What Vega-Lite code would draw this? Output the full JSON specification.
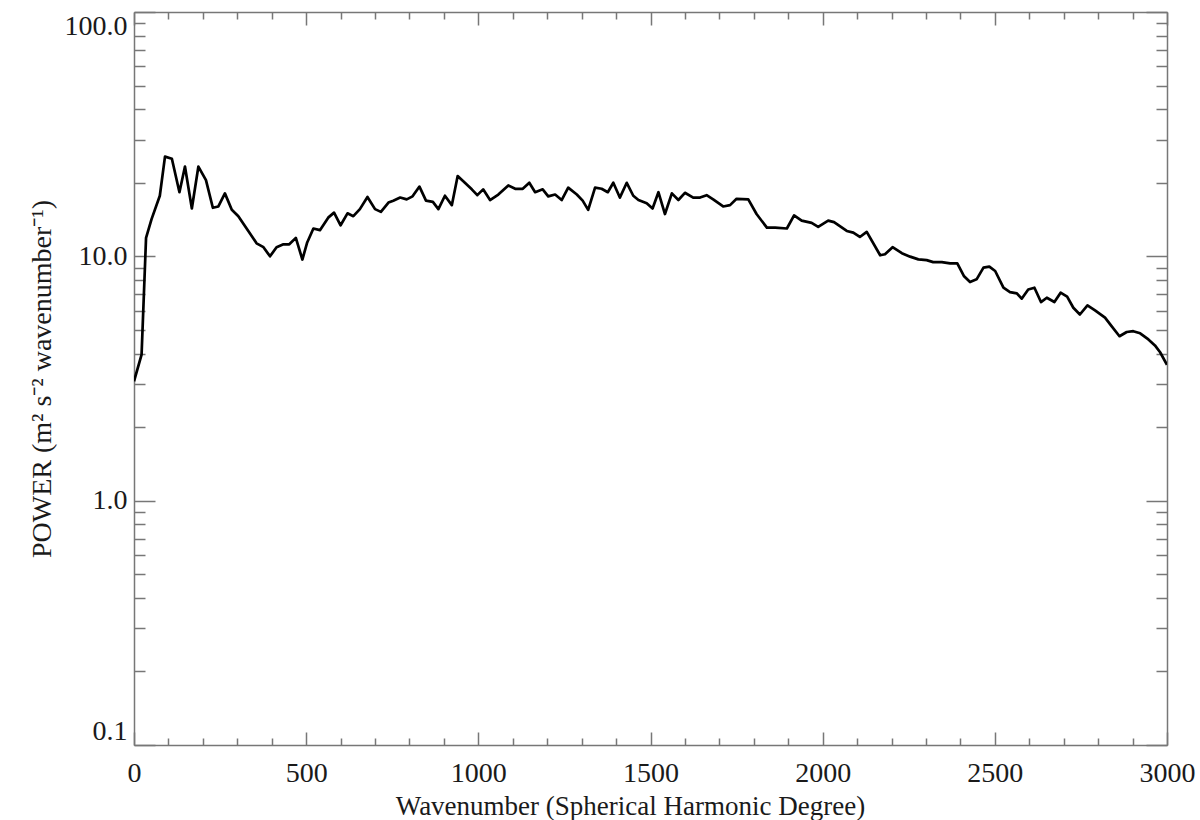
{
  "$schema": "https://vega.github.io/schema/vega-lite/v6.json",
  "width": 1033,
  "height": 733,
  "autosize": {"type": "none"},
  "padding": {"left": 134, "top": 12, "right": 33, "bottom": 75},
  "background": "white",
  "config": {
    "view": {"stroke": null},
    "axis": {
      "grid": false,
      "labelFont": "Liberation Serif",
      "titleFont": "Liberation Serif",
      "labelFontSize": 28,
      "titleFontSize": 27,
      "titleFontWeight": "normal",
      "labelColor": "#1a1a1a",
      "titleColor": "#1a1a1a",
      "domainColor": "#777777",
      "domainWidth": 1.5,
      "tickColor": "#777777",
      "tickWidth": 1.5,
      "labelOverlap": false,
      "labelFlush": false
    }
  },
  "data": {
    "values": [
      {"degree": 0, "power": 3.08},
      {"degree": 22, "power": 3.96},
      {"degree": 35, "power": 11.9},
      {"degree": 51, "power": 14.2},
      {"degree": 75, "power": 17.7},
      {"degree": 90, "power": 25.6},
      {"degree": 110, "power": 25.1},
      {"degree": 132, "power": 18.3},
      {"degree": 148, "power": 23.3},
      {"degree": 168, "power": 15.7},
      {"degree": 187, "power": 23.3},
      {"degree": 209, "power": 20.5},
      {"degree": 229, "power": 15.8},
      {"degree": 245, "power": 16.0},
      {"degree": 264, "power": 18.1},
      {"degree": 284, "power": 15.5},
      {"degree": 303, "power": 14.6},
      {"degree": 356, "power": 11.3},
      {"degree": 376, "power": 10.9},
      {"degree": 395, "power": 10.0},
      {"degree": 414, "power": 10.9},
      {"degree": 434, "power": 11.2},
      {"degree": 451, "power": 11.2},
      {"degree": 470, "power": 11.9},
      {"degree": 489, "power": 9.7},
      {"degree": 503, "power": 11.4},
      {"degree": 521, "power": 13.0},
      {"degree": 540, "power": 12.8},
      {"degree": 564, "power": 14.4},
      {"degree": 581, "power": 15.1},
      {"degree": 600, "power": 13.4},
      {"degree": 620, "power": 15.0},
      {"degree": 637, "power": 14.6},
      {"degree": 656, "power": 15.6},
      {"degree": 678, "power": 17.5},
      {"degree": 700, "power": 15.6},
      {"degree": 717, "power": 15.2},
      {"degree": 739, "power": 16.6},
      {"degree": 753, "power": 16.9},
      {"degree": 773, "power": 17.4},
      {"degree": 792, "power": 17.1},
      {"degree": 809, "power": 17.6},
      {"degree": 829, "power": 19.3},
      {"degree": 848, "power": 16.9},
      {"degree": 868, "power": 16.7},
      {"degree": 884, "power": 15.6},
      {"degree": 903, "power": 17.7},
      {"degree": 923, "power": 16.2},
      {"degree": 940, "power": 21.3},
      {"degree": 961, "power": 20.0},
      {"degree": 981, "power": 18.8},
      {"degree": 997, "power": 17.8},
      {"degree": 1014, "power": 18.8},
      {"degree": 1034, "power": 17.0},
      {"degree": 1058, "power": 17.9},
      {"degree": 1087, "power": 19.5},
      {"degree": 1107, "power": 18.9},
      {"degree": 1129, "power": 18.9},
      {"degree": 1148, "power": 20.0},
      {"degree": 1165, "power": 18.3},
      {"degree": 1187, "power": 18.8},
      {"degree": 1203, "power": 17.6},
      {"degree": 1223, "power": 17.9},
      {"degree": 1242, "power": 17.0},
      {"degree": 1261, "power": 19.1},
      {"degree": 1286, "power": 17.9},
      {"degree": 1303, "power": 16.9},
      {"degree": 1319, "power": 15.5},
      {"degree": 1339, "power": 19.1},
      {"degree": 1358, "power": 18.9},
      {"degree": 1376, "power": 18.3},
      {"degree": 1392, "power": 20.0},
      {"degree": 1411, "power": 17.4},
      {"degree": 1431, "power": 20.0},
      {"degree": 1450, "power": 17.7},
      {"degree": 1465, "power": 17.0},
      {"degree": 1489, "power": 16.5},
      {"degree": 1506, "power": 15.7},
      {"degree": 1523, "power": 18.3},
      {"degree": 1542, "power": 14.9},
      {"degree": 1562, "power": 18.1},
      {"degree": 1581, "power": 17.0},
      {"degree": 1600, "power": 18.2},
      {"degree": 1624, "power": 17.4},
      {"degree": 1644, "power": 17.4},
      {"degree": 1663, "power": 17.8},
      {"degree": 1682, "power": 17.1},
      {"degree": 1711, "power": 16.0},
      {"degree": 1731, "power": 16.2},
      {"degree": 1750, "power": 17.2},
      {"degree": 1784, "power": 17.1},
      {"degree": 1808, "power": 14.9},
      {"degree": 1838, "power": 13.1},
      {"degree": 1862, "power": 13.1},
      {"degree": 1896, "power": 13.0},
      {"degree": 1917, "power": 14.7},
      {"degree": 1939, "power": 14.0},
      {"degree": 1968, "power": 13.7},
      {"degree": 1987, "power": 13.2},
      {"degree": 2016, "power": 14.0},
      {"degree": 2033, "power": 13.8},
      {"degree": 2070, "power": 12.7},
      {"degree": 2089, "power": 12.5},
      {"degree": 2108, "power": 12.0},
      {"degree": 2128, "power": 12.6},
      {"degree": 2167, "power": 10.1},
      {"degree": 2181, "power": 10.2},
      {"degree": 2203, "power": 10.9},
      {"degree": 2230, "power": 10.3},
      {"degree": 2254, "power": 9.97},
      {"degree": 2278, "power": 9.72},
      {"degree": 2302, "power": 9.65},
      {"degree": 2321, "power": 9.47},
      {"degree": 2346, "power": 9.47},
      {"degree": 2370, "power": 9.36},
      {"degree": 2391, "power": 9.36},
      {"degree": 2410, "power": 8.31},
      {"degree": 2428, "power": 7.85},
      {"degree": 2447, "power": 8.05},
      {"degree": 2467, "power": 8.99},
      {"degree": 2484, "power": 9.08},
      {"degree": 2501, "power": 8.71},
      {"degree": 2525, "power": 7.44},
      {"degree": 2544, "power": 7.14},
      {"degree": 2564, "power": 7.05},
      {"degree": 2578, "power": 6.71},
      {"degree": 2597, "power": 7.32},
      {"degree": 2615, "power": 7.44},
      {"degree": 2634, "power": 6.5},
      {"degree": 2651, "power": 6.77},
      {"degree": 2673, "power": 6.5},
      {"degree": 2691, "power": 7.1},
      {"degree": 2710, "power": 6.84},
      {"degree": 2728, "power": 6.16},
      {"degree": 2747, "power": 5.78},
      {"degree": 2769, "power": 6.3},
      {"degree": 2791, "power": 6.01},
      {"degree": 2820, "power": 5.61},
      {"degree": 2839, "power": 5.18},
      {"degree": 2862, "power": 4.71},
      {"degree": 2883, "power": 4.9},
      {"degree": 2902, "power": 4.94},
      {"degree": 2922, "power": 4.84},
      {"degree": 2946, "power": 4.57},
      {"degree": 2965, "power": 4.32},
      {"degree": 2980, "power": 4.05},
      {"degree": 3000, "power": 3.6}
    ]
  },
  "layer": [
    {
      "mark": {"type": "line", "color": "black", "strokeWidth": 2.7, "strokeJoin": "round", "clip": true},
      "encoding": {
        "x": {
          "field": "degree",
          "type": "quantitative",
          "scale": {"domain": [0, 3000], "nice": false, "zero": false},
          "axis": {
            "orient": "bottom",
            "title": "Wavenumber (Spherical Harmonic Degree)",
            "values": [0,100,200,300,400,500,600,700,800,900,1000,1100,1200,1300,1400,1500,1600,1700,1800,1900,2000,2100,2200,2300,2400,2500,2600,2700,2800,2900,3000],
            "labelExpr": "datum.value % 500 === 0 ? datum.label : ''",
            "format": "d",
            "tickSize": {"condition": {"test": "datum.value % 500 === 0", "value": -13}, "value": -7},
            "labelPadding": 27,
            "titlePadding": 0,
            "titleX": 496,
            "titleAlign": "center"
          }
        },
        "y": {
          "field": "power",
          "type": "quantitative",
          "scale": {"type": "log", "domain": [0.1, 100], "nice": false},
          "axis": {
            "orient": "left",
            "title": "POWER (m² s⁻² wavenumber⁻¹)",
            "titleFontSize": 28,
            "values": [0.1,0.2,0.3,0.4,0.5,0.6,0.7,0.8,0.9,1,2,3,4,5,6,7,8,9,10,20,30,40,50,60,70,80,90,100],
            "format": ".1f",
            "labelExpr": "indexof([0.1,1,10,100], datum.value) >= 0 ? datum.label : ''",
            "tickSize": {"condition": {"test": "indexof([0.1,1,10,100], datum.value) >= 0", "value": -21}, "value": -11},
            "labelPadding": 28,
            "labelFlush": true,
            "titlePadding": 8
          }
        }
      }
    },
    {
      "mark": {"type": "line", "opacity": 0},
      "encoding": {
        "x": {
          "field": "degree",
          "type": "quantitative",
          "axis": {
            "orient": "top",
            "title": null,
            "labels": false,
            "values": [0,100,200,300,400,500,600,700,800,900,1000,1100,1200,1300,1400,1500,1600,1700,1800,1900,2000,2100,2200,2300,2400,2500,2600,2700,2800,2900,3000],
            "tickSize": {"condition": {"test": "datum.value % 500 === 0", "value": -13}, "value": -7}
          }
        },
        "y": {
          "field": "power",
          "type": "quantitative",
          "axis": {
            "orient": "right",
            "title": null,
            "labels": false,
            "values": [0.1,0.2,0.3,0.4,0.5,0.6,0.7,0.8,0.9,1,2,3,4,5,6,7,8,9,10,20,30,40,50,60,70,80,90,100],
            "tickSize": {"condition": {"test": "indexof([0.1,1,10,100], datum.value) >= 0", "value": -21}, "value": -11}
          }
        }
      }
    }
  ],
  "resolve": {"axis": {"x": "independent", "y": "independent"}}
}
